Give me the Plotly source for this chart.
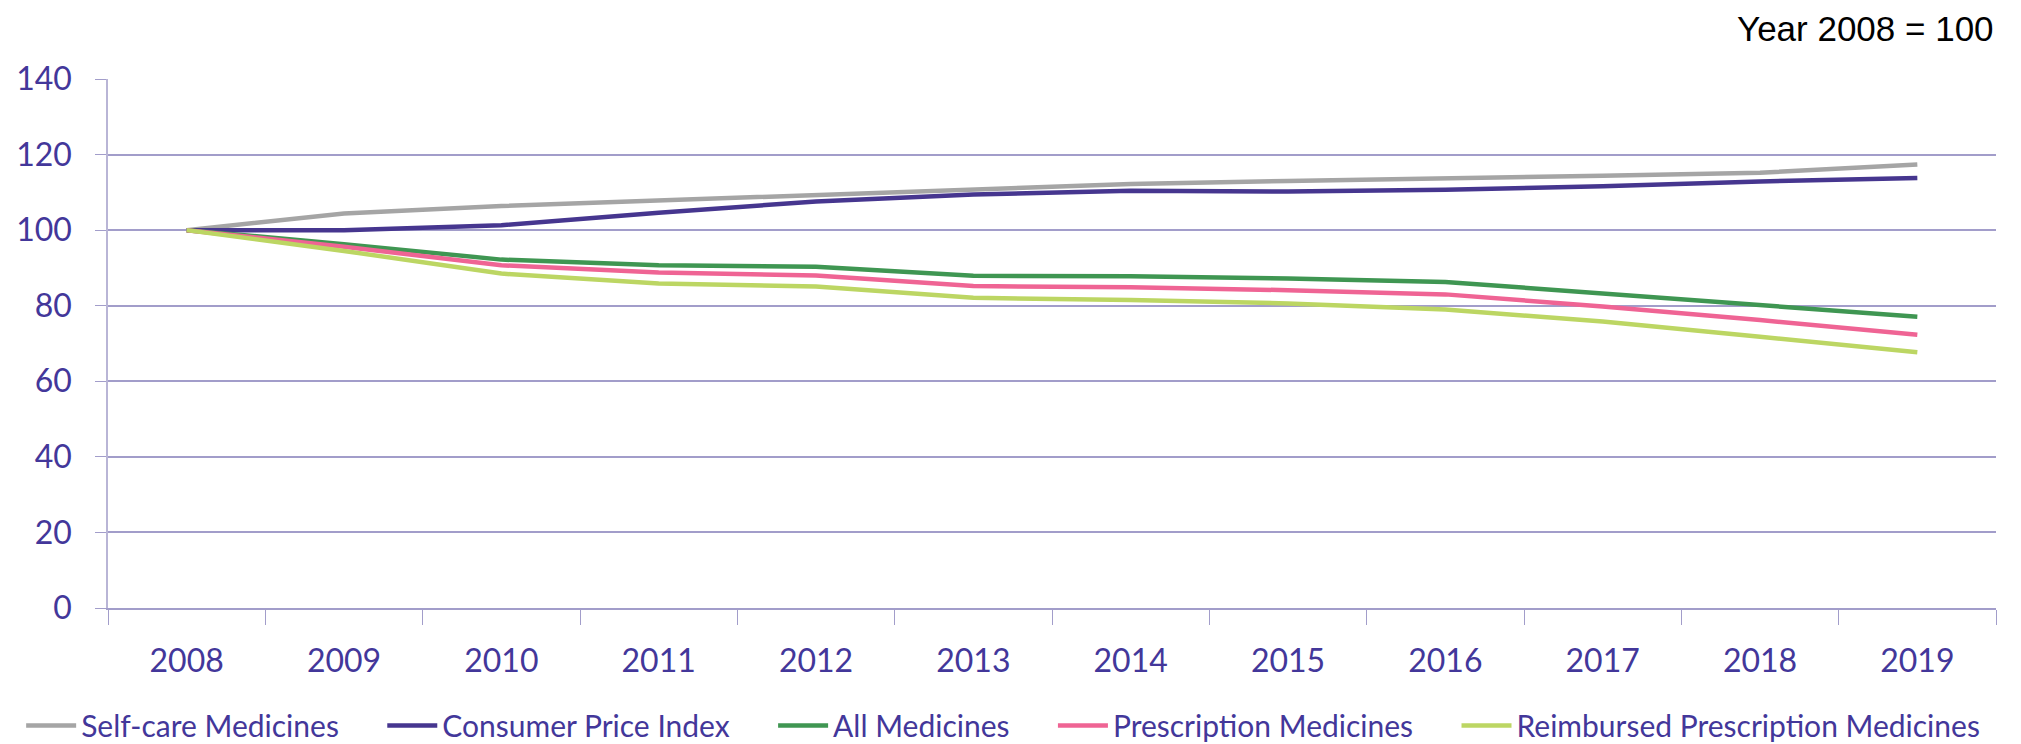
import plotly.graph_objects as go

years = ["2008", "2009", "2010", "2011", "2012", "2013", "2014", "2015", "2016", "2017", "2018", "2019"]

self_care = [100, 104.4, 106.4, 107.9, 109.3, 110.7, 112.2, 113.0, 113.6, 114.4, 115.2, 117.4]
cpi = [100, 100.0, 101.3, 104.6, 107.6, 109.4, 110.4, 110.2, 110.7, 111.6, 112.9, 113.8]
all_medicines = [100, 96.3, 92.2, 90.7, 90.3, 87.9, 87.8, 87.2, 86.3, 83.3, 80.2, 77.1]
prescription = [100, 95.6, 90.7, 88.8, 88.0, 85.2, 84.9, 84.1, 83.0, 79.8, 76.2, 72.3]
reimbursed = [100, 94.5, 88.5, 85.9, 85.1, 82.1, 81.5, 80.6, 79.0, 75.8, 71.8, 67.7]

y_ticks = [0, 20, 40, 60, 80, 100, 120, 140]

series = [
    ("Self-care Medicines", self_care, "#A5A5A5"),
    ("Consumer Price Index", cpi, "#46368F"),
    ("All Medicines", all_medicines, "#3F9652"),
    ("Prescription Medicines", prescription, "#EF6494"),
    ("Reimbursed Prescription Medicines", reimbursed, "#BCD663"),
]

text_col = "#43379A"
grid_col = "#A29DCA"
pad = "\u00a0" * 5  # spacing after each legend entry (not the last one)

fig = go.Figure()
for i, (name, vals, col) in enumerate(series):
    label = name if i == len(series) - 1 else name + pad
    fig.add_trace(go.Scatter(x=years, y=vals, name=label, mode="lines",
                             line=dict(color=col, width=4.5)))

# page body has an 8px margin, so the figure is 8px smaller than the window
fig.update_layout(
    width=2013, height=736,
    margin=dict(l=100, r=25, t=71, b=136, autoexpand=False),
    plot_bgcolor="white", paper_bgcolor="white",
    font=dict(family="Lato", color=text_col, size=32),
    legend=dict(orientation="h", x=-0.046, xanchor="left", itemwidth=50,
                y=-0.222, yanchor="middle", font=dict(size=30, color=text_col),
                bgcolor="rgba(0,0,0,0)"),
    annotations=[dict(text="Year 2008 = 100", xref="paper", yref="paper",
                      x=1.0, y=1.055, xanchor="right", yanchor="bottom", showarrow=False,
                      font=dict(family="Liberation Sans", size=35, color="black"))],
)

fig.update_xaxes(type="category", range=[-0.5, 11.5], tickson="boundaries", ticks="outside",
                 ticklen=15, tickcolor=grid_col, showline=True, linecolor=grid_col, linewidth=1.5,
                 showgrid=False, tickangle=0, tickfont=dict(size=32, color=text_col),
                 ticklabelstandoff=24)
fig.update_yaxes(range=[0, 140], tickvals=y_ticks, ticks="outside", ticklen=11,
                 tickcolor=grid_col, showgrid=True, gridcolor=grid_col, gridwidth=1.5,
                 showline=True, linecolor="#B9B5D6", linewidth=1.5, zeroline=False,
                 tickfont=dict(size=32, color=text_col), ticklabelstandoff=17)

fig.write_html("out.html")
